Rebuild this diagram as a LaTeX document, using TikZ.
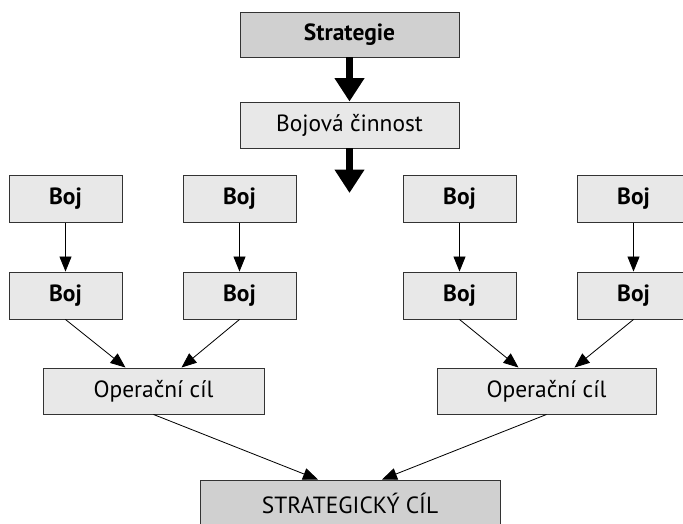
\documentclass[tikz,border=0pt]{standalone}
\usepackage{fontspec}
\setmainfont{PT Sans}
\usepackage{tikz}
\usetikzlibrary{arrows.meta,positioning}
\usepackage{xcolor}
\definecolor{boxdark}{RGB}{208,208,208}
\definecolor{boxlight}{RGB}{232,232,232}
\tikzstyle{thickarrow} = [line width=5.5pt,-{Triangle[length=0.7cm,width=0.85cm]}]
\tikzstyle{thinarrow} = [line width=0.7pt,-{Triangle[length=0.45cm,width=0.36cm]}]
\tikzstyle{level} = [rectangle, draw=black!80, line width=0.8pt, inner sep=0pt, font=\fontsize{20}{24}\selectfont]
\tikzstyle{boj} = [level, fill=boxlight, minimum width=3.39cm, minimum height=1.41cm, font=\fontsize{20}{24}\selectfont\bfseries]

\begin{document}
\begin{tikzpicture}[x=0.03cm, y=-0.03cm]
\useasboundingbox (0,0) rectangle (683,523);

% top of the chain
\node[level, fill=boxdark, minimum width=6.57cm, minimum height=1.35cm, font=\fontsize{20}{24}\selectfont\bfseries] (strategie) at (349.5,34.5) {Strategie};
\node[level, fill=boxlight, minimum width=6.57cm, minimum height=1.38cm] (cinnost) at (349.5,125) {Bojová činnost};
\coordinate (cinnostend) at (349.5,193);

\draw[thickarrow] (strategie) -- (cinnost);
\draw[thickarrow] (cinnost) -- (cinnostend);

% battles
\node[boj] (boj1) at (65.5,199) {Boj};
\node[boj] (boj2) at (239.5,199) {Boj};
\node[boj] (boj3) at (459.5,199) {Boj};
\node[boj] (boj4) at (633.5,199) {Boj};
\node[boj] (boj5) at (65.5,295.5) {Boj};
\node[boj] (boj6) at (239.5,295.5) {Boj};
\node[boj] (boj7) at (459.5,295.5) {Boj};
\node[boj] (boj8) at (633.5,295.5) {Boj};

\draw[thinarrow] (boj1) -- (boj5);
\draw[thinarrow] (boj2) -- (boj6);
\draw[thinarrow] (boj3) -- (boj7);
\draw[thinarrow] (boj4) -- (boj8);

% operational goals
\node[level, fill=boxlight, minimum width=6.63cm, minimum height=1.38cm] (op1) at (153.5,391) {Operační cíl};
\node[level, fill=boxlight, minimum width=6.57cm, minimum height=1.38cm] (op2) at (546.5,391) {Operační cíl};

\draw[thinarrow] (boj5.south) -- ([xshift=-0.84cm]op1.north);
\draw[thinarrow] (boj6.south) -- ([xshift=0.84cm]op1.north);
\draw[thinarrow] (boj7.south) -- ([xshift=-0.84cm]op2.north);
\draw[thinarrow] (boj8.south) -- ([xshift=0.84cm]op2.north);

% strategic goal
\node[level, fill=boxdark, minimum width=9cm, minimum height=1.38cm] (cil) at (350,503) {STRATEGICKÝ CÍL};

\draw[thinarrow] (op1.south) -- ([xshift=-0.96cm]cil.north);
\draw[thinarrow] (op2.south) -- ([xshift=0.96cm]cil.north);
\end{tikzpicture}
\end{document}
